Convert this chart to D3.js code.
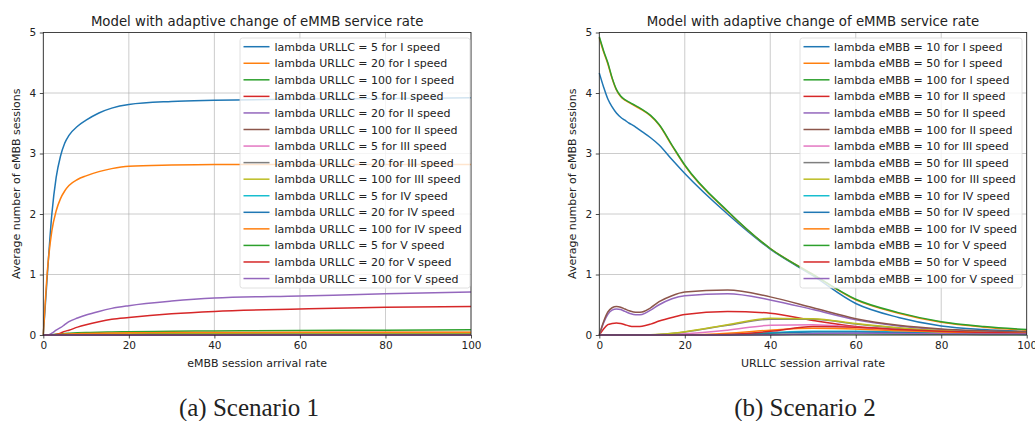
<!DOCTYPE html>
<html>
<head>
<meta charset="utf-8">
<script src="https://cdn.jsdelivr.net/npm/d3@7"></script>
<style>
  body { margin: 0; background: #fff; }
  svg text { font-family: "DejaVu Sans", sans-serif; fill: #222; }
  .caption { font-family: "Liberation Serif", "DejaVu Serif", serif; font-size: 25px; }
</style>
</head>
<body>
<svg id="fig" width="1035" height="421"></svg>
<script>
// ---- data: scenario 1 (x = eMBB arrival rate) ----
const xs1 = [0, 1, 2, 3, 4, 5, 6, 8, 10, 13, 16, 20, 30, 40, 60, 80, 100];
const labels1 = [
  "lambda URLLC = 5 for I speed", "lambda URLLC = 20 for I speed", "lambda URLLC = 100 for I speed",
  "lambda URLLC = 5 for II speed", "lambda URLLC = 20 for II speed", "lambda URLLC = 100 for II speed",
  "lambda URLLC = 5 for III speed", "lambda URLLC = 20 for III speed", "lambda URLLC = 100 for III speed",
  "lambda URLLC = 5 for IV speed", "lambda URLLC = 20 for IV speed", "lambda URLLC = 100 for IV speed",
  "lambda URLLC = 5 for V speed", "lambda URLLC = 20 for V speed", "lambda URLLC = 100 for V speed"
];
const s1_1  = [0, 1.05, 2.0, 2.6, 2.95, 3.17, 3.3, 3.45, 3.55, 3.67, 3.75, 3.81, 3.86, 3.88, 3.9, 3.91, 3.92];
const s1_2  = [0, 1.1, 1.72, 2.05, 2.25, 2.38, 2.47, 2.57, 2.63, 2.7, 2.75, 2.79, 2.81, 2.82, 2.82, 2.82, 2.82];
const s1_3  = [0, 0, 0.005, 0.012, 0.02, 0.026, 0.03, 0.036, 0.04, 0.046, 0.05, 0.055, 0.062, 0.068, 0.075, 0.08, 0.085];
const s1_4  = [0, 0, 0, 0.01, 0.03, 0.06, 0.08, 0.13, 0.17, 0.22, 0.26, 0.29, 0.35, 0.39, 0.43, 0.46, 0.47];
const s1_5  = [0, 0, 0.03, 0.08, 0.12, 0.17, 0.22, 0.28, 0.33, 0.39, 0.44, 0.485, 0.56, 0.61, 0.645, 0.68, 0.71];
const s1_6  = [0, 0, 0, 0.002, 0.004, 0.006, 0.008, 0.012, 0.015, 0.019, 0.022, 0.025, 0.03, 0.034, 0.038, 0.041, 0.043];
const s1_7  = [0, 0, 0, 0, 0.002, 0.003, 0.004, 0.006, 0.008, 0.01, 0.012, 0.014, 0.018, 0.02, 0.022, 0.024, 0.025];
const s1_8  = [0, 0, 0, 0, 0, 0.001, 0.002, 0.003, 0.004, 0.006, 0.007, 0.008, 0.01, 0.012, 0.013, 0.014, 0.015];
const s1_9  = [0, 0, 0, 0.003, 0.005, 0.007, 0.009, 0.012, 0.015, 0.018, 0.021, 0.024, 0.028, 0.031, 0.033, 0.034, 0.035];
const s1_10 = [0, 0, 0, 0, 0, 0, 0, 0.001, 0.001, 0.002, 0.002, 0.003, 0.003, 0.004, 0.004, 0.005, 0.005];
const s1_11 = [0, 0, 0, 0, 0, 0, 0, 0, 0, 0, 0, 0, 0, 0, 0, 0, 0];
const s1_12 = [0, 0, 0.004, 0.008, 0.012, 0.015, 0.018, 0.022, 0.026, 0.03, 0.033, 0.036, 0.04, 0.042, 0.044, 0.045, 0.045];
const s1_13 = [0, 0, 0, 0, 0, 0, 0.001, 0.002, 0.003, 0.004, 0.005, 0.006, 0.007, 0.008, 0.009, 0.01, 0.01];
const s1_14 = [0, 0, 0, 0, 0, 0, 0, 0, 0, 0.001, 0.001, 0.001, 0.002, 0.002, 0.003, 0.003, 0.003];
const s1_15 = [0, 0, 0, 0, 0, 0, 0, 0, 0, 0, 0, 0.001, 0.001, 0.001, 0.002, 0.002, 0.002];

// ---- data: scenario 2 (x = URLLC arrival rate) ----
const xs2 = [0, 1, 2, 3, 4, 5, 6, 7, 8, 9, 10, 12, 14, 17, 20, 30, 40, 50, 60, 70, 80, 90, 100];
const labels2 = [
  "lambda eMBB = 10 for I speed", "lambda eMBB = 50 for I speed", "lambda eMBB = 100 for I speed",
  "lambda eMBB = 10 for II speed", "lambda eMBB = 50 for II speed", "lambda eMBB = 100 for II speed",
  "lambda eMBB = 10 for III speed", "lambda eMBB = 50 for III speed", "lambda eMBB = 100 for III speed",
  "lambda eMBB = 10 for IV speed", "lambda eMBB = 50 for IV speed", "lambda eMBB = 100 for IV speed",
  "lambda eMBB = 10 for V speed", "lambda eMBB = 50 for V speed", "lambda eMBB = 100 for V speed"
];
const s2_1  = [4.33, 4.1, 3.9, 3.77, 3.67, 3.6, 3.55, 3.5, 3.46, 3.41, 3.36, 3.26, 3.14, 2.9, 2.67, 2.0, 1.42, 0.98, 0.52, 0.29, 0.15, 0.09, 0.06];
const s2_2  = [4.91, 4.68, 4.48, 4.24, 4.05, 3.94, 3.88, 3.84, 3.8, 3.76, 3.72, 3.62, 3.47, 3.13, 2.8, 2.04, 1.43, 1.0, 0.58, 0.36, 0.21, 0.13, 0.08];
const s2_3  = [4.93, 4.7, 4.5, 4.25, 4.06, 3.95, 3.89, 3.85, 3.81, 3.77, 3.73, 3.63, 3.48, 3.14, 2.81, 2.05, 1.43, 1.0, 0.59, 0.37, 0.22, 0.14, 0.09];
const s2_4  = [0, 0.1, 0.17, 0.19, 0.2, 0.19, 0.17, 0.15, 0.14, 0.14, 0.145, 0.18, 0.23, 0.29, 0.34, 0.39, 0.36, 0.24, 0.14, 0.09, 0.06, 0.04, 0.03];
const s2_5  = [0, 0.2, 0.34, 0.41, 0.43, 0.42, 0.39, 0.36, 0.34, 0.335, 0.34, 0.41, 0.5, 0.6, 0.65, 0.68, 0.58, 0.42, 0.25, 0.15, 0.09, 0.06, 0.04];
const s2_6  = [0, 0.22, 0.38, 0.45, 0.47, 0.46, 0.43, 0.4, 0.38, 0.375, 0.38, 0.45, 0.55, 0.65, 0.71, 0.745, 0.63, 0.45, 0.27, 0.16, 0.1, 0.07, 0.05];
const s2_7  = [0, 0, 0, 0, 0, 0, 0, 0, 0, 0, 0, 0.002, 0.005, 0.01, 0.02, 0.08, 0.16, 0.17, 0.13, 0.08, 0.05, 0.03, 0.02];
const s2_8  = [0, 0, 0, 0, 0, 0, 0, 0, 0, 0, 0, 0.004, 0.01, 0.025, 0.05, 0.16, 0.26, 0.26, 0.18, 0.11, 0.065, 0.04, 0.025];
const s2_9  = [0, 0, 0, 0, 0, 0, 0, 0, 0, 0, 0, 0.005, 0.012, 0.03, 0.055, 0.17, 0.275, 0.27, 0.19, 0.12, 0.07, 0.04, 0.03];
const s2_10 = [0, 0, 0, 0, 0, 0, 0, 0, 0, 0, 0, 0, 0, 0, 0, 0.01, 0.04, 0.06, 0.06, 0.05, 0.03, 0.02, 0.015];
const s2_11 = [0, 0, 0, 0, 0, 0, 0, 0, 0, 0, 0, 0, 0, 0, 0, 0.005, 0.03, 0.05, 0.05, 0.04, 0.025, 0.015, 0.01];
const s2_12 = [0, 0, 0, 0, 0, 0, 0, 0, 0, 0, 0, 0, 0, 0, 0.002, 0.03, 0.08, 0.11, 0.1, 0.07, 0.05, 0.03, 0.02];
const s2_13 = [0, 0, 0, 0, 0, 0, 0, 0, 0, 0, 0, 0, 0, 0, 0, 0.002, 0.01, 0.015, 0.02, 0.015, 0.012, 0.01, 0.01];
const s2_14 = [0, 0, 0, 0, 0, 0, 0, 0, 0, 0, 0, 0, 0, 0, 0, 0.01, 0.06, 0.14, 0.13, 0.09, 0.06, 0.04, 0.03];
const s2_15 = [0, 0, 0, 0, 0, 0, 0, 0, 0, 0, 0, 0, 0, 0, 0, 0, 0.005, 0.02, 0.03, 0.025, 0.02, 0.015, 0.015];

const xTicks = [0, 20, 40, 60, 80, 100];
const yTicks = [0, 1, 2, 3, 4, 5];
const title = "Model with adaptive change of eMMB service rate";
const yLabel = "Average number of eMBB sessions";

// matplotlib tab10 cycle
const colors = ["#1f77b4", "#ff7f0e", "#2ca02c", "#d62728", "#9467bd",
                "#8c564b", "#e377c2", "#7f7f7f", "#bcbd22", "#17becf"];

const svg = d3.select("#fig");

function drawPanel(p) {
  let g = svg.append("g");

  let x = d3.scaleLinear().domain([0, 100]).range([p.left, p.right]);
  let y = d3.scaleLinear().domain([0, 5]).range([p.bottom, p.top]);

  // grid
  g.append("g").selectAll("line").data(xTicks).enter().append("line")
    .attr("x1", d => x(d)).attr("x2", d => x(d))
    .attr("y1", p.top).attr("y2", p.bottom)
    .attr("stroke", "#b0b0b0").attr("stroke-width", 0.8).attr("opacity", 0.8);
  g.append("g").selectAll("line").data(yTicks).enter().append("line")
    .attr("x1", p.left).attr("x2", p.right)
    .attr("y1", d => y(d)).attr("y2", d => y(d))
    .attr("stroke", "#b0b0b0").attr("stroke-width", 0.8).attr("opacity", 0.8);

  // curves
  let line = d3.line()
    .x((d, i) => x(p.xs[i]))
    .y(d => y(d))
    .curve(d3.curveMonotoneX);

  g.append("g").selectAll("path").data(p.series).enter().append("path")
    .attr("d", d => line(d))
    .attr("fill", "none")
    .attr("stroke", (d, i) => colors[i % 10])
    .attr("stroke-width", 1.5);

  // axes
  let xAxis = g.append("g")
    .attr("transform", "translate(0," + p.bottom + ")")
    .call(d3.axisBottom(x).tickValues(xTicks).tickSize(3.5).tickPadding(3));
  let yAxis = g.append("g")
    .attr("transform", "translate(" + p.left + ",0)")
    .call(d3.axisLeft(y).tickValues(yTicks).tickFormat(d3.format("d")).tickSize(3.5).tickPadding(3.5));
  [xAxis, yAxis].forEach(a => {
    a.selectAll("text").style("font-size", "10.5px").attr("fill", "#222");
    a.selectAll("line").attr("stroke", "#222").attr("stroke-width", 0.8);
    a.select(".domain").remove();
  });

  // frame
  g.append("rect")
    .attr("x", p.left).attr("y", p.top)
    .attr("width", p.right - p.left).attr("height", p.bottom - p.top)
    .attr("fill", "none").attr("stroke", "#222").attr("stroke-width", 0.8);

  // texts
  g.append("text")
    .attr("x", (p.left + p.right) / 2).attr("y", 26)
    .attr("text-anchor", "middle").style("font-size", "13.3px")
    .text(title);
  g.append("text")
    .attr("x", (p.left + p.right) / 2).attr("y", 367)
    .attr("text-anchor", "middle").style("font-size", "11px")
    .text(p.xLabel);
  g.append("text")
    .attr("transform", "translate(" + (p.left - 23) + "," + ((p.top + p.bottom) / 2) + ") rotate(-90)")
    .attr("text-anchor", "middle").style("font-size", "11px")
    .text(yLabel);

  // legend
  let lg = g.append("g").attr("transform", "translate(" + p.legX + ",38)");
  lg.append("rect")
    .attr("width", p.legW).attr("height", 250).attr("rx", 2.5)
    .attr("fill", "#fff").attr("fill-opacity", 0.8)
    .attr("stroke", "#d8d8d8").attr("stroke-width", 0.8);
  let items = lg.selectAll("g.item").data(p.labels).enter().append("g")
    .attr("class", "item")
    .attr("transform", (d, i) => "translate(0," + (8.7 + 16.56 * i) + ")");
  items.append("line")
    .attr("x1", p.lineX0).attr("x2", p.lineX0 + 26)
    .attr("stroke", (d, i) => colors[i % 10]).attr("stroke-width", 1.5);
  items.append("text")
    .attr("x", p.textX).attr("y", 4)
    .style("font-size", "11px")
    .text(d => d);

  // caption
  svg.append("text").attr("class", "caption")
    .attr("x", p.capX).attr("y", 416)
    .attr("text-anchor", "middle")
    .text(p.caption);
}

drawPanel({
  left: 43.3, right: 471, top: 32.5, bottom: 335,
  xs: xs1,
  series: [s1_1, s1_2, s1_3, s1_4, s1_5, s1_6, s1_7, s1_8, s1_9, s1_10, s1_11, s1_12, s1_13, s1_14, s1_15],
  labels: labels1, legX: 240, legW: 230, lineX0: 3.5, textX: 34.5,
  xLabel: "eMBB session arrival rate", caption: "(a) Scenario 1", capX: 249
});

drawPanel({
  left: 599.3, right: 1026.7, top: 32.5, bottom: 335,
  xs: xs2,
  series: [s2_1, s2_2, s2_3, s2_4, s2_5, s2_6, s2_7, s2_8, s2_9, s2_10, s2_11, s2_12, s2_13, s2_14, s2_15],
  labels: labels2, legX: 800, legW: 222, lineX0: 3.5, textX: 34,
  xLabel: "URLLC session arrival rate", caption: "(b) Scenario 2", capX: 805
});
</script>
</body>
</html>
